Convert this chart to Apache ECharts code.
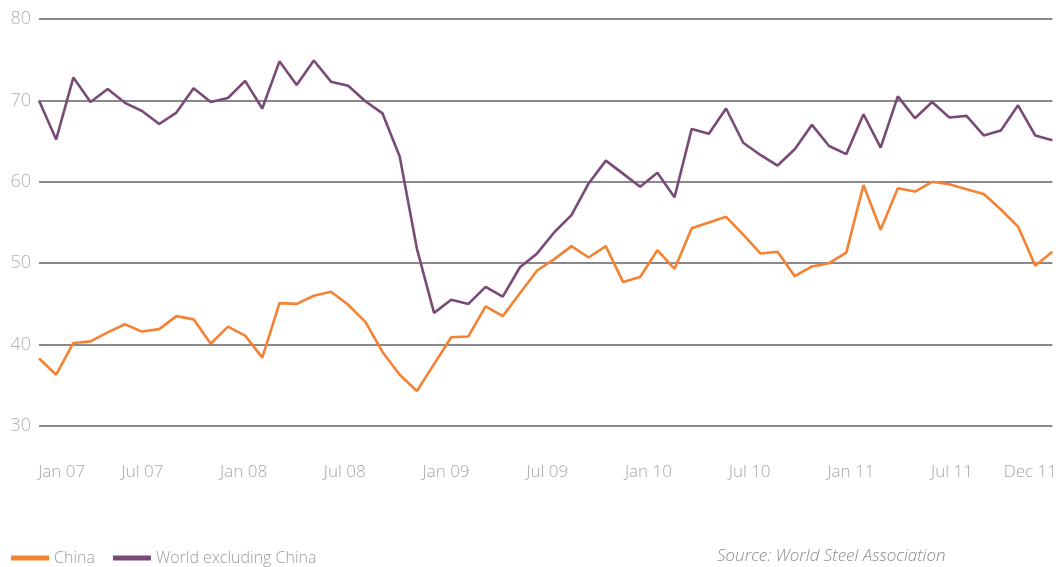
<!DOCTYPE html>
<html>
<head>
<meta charset="utf-8">
<script src="https://cdn.jsdelivr.net/npm/echarts@6/dist/echarts.min.js"></script>
<style>
  html, body { margin: 0; padding: 0; background: #fff; }
  #chart { width: 1060px; height: 567px; }
</style>
</head>
<body>
<div id="chart"></div>
<script>
// monthly, Jan 07 .. Dec 11
var months = [];
var years = ['07', '08', '09', '10', '11'];
var monthNames = ['Jan', 'Feb', 'Mar', 'Apr', 'May', 'Jun', 'Jul', 'Aug', 'Sep', 'Oct', 'Nov', 'Dec'];
years.forEach(function(y){
  monthNames.forEach(function(m){ months.push(m + ' ' + y); });
});

var china = [
  38.3, 36.3, 40.2, 40.4, 41.5, 42.5, 41.6, 41.9, 43.5, 43.1, 40.1, 42.2,
  41.1, 38.4, 45.1, 45.0, 46.0, 46.5, 44.9, 42.8, 39.1, 36.3, 34.3, 37.6,
  40.9, 41.0, 44.7, 43.5, 46.3, 49.1, 50.5, 52.1, 50.7, 52.1, 47.7, 48.3,
  51.6, 49.3, 54.3, 55.0, 55.7, 53.5, 51.2, 51.4, 48.4, 49.6, 50.0, 51.3,
  59.6, 54.1, 59.2, 58.8, 60.0, 59.7, 59.1, 58.5, 56.6, 54.5, 49.7, 51.4
];
var worldExChina = [
  70.0, 65.2, 72.8, 69.8, 71.4, 69.7, 68.7, 67.1, 68.5, 71.5, 69.8, 70.3,
  72.4, 69.0, 74.8, 71.9, 74.9, 72.3, 71.8, 69.9, 68.4, 63.1, 51.8, 43.9,
  45.5, 45.0, 47.1, 45.9, 49.5, 51.2, 53.8, 55.9, 59.8, 62.6, 61.0, 59.4,
  61.1, 58.1, 66.5, 65.9, 69.0, 64.8, 63.3, 62.0, 64.0, 67.0, 64.4, 63.4,
  68.3, 64.2, 70.5, 67.8, 69.8, 67.9, 68.1, 65.7, 66.3, 69.4, 65.7, 65.1
];

var tickIndex = [0, 6, 12, 18, 24, 30, 36, 42, 48, 54, 59];
var tickLabels = ['Jan 07', 'Jul 07', 'Jan 08', 'Jul 08', 'Jan 09', 'Jul 09',
  'Jan 10', 'Jul 10', 'Jan 11', 'Jul 11', 'Dec 11'];
var yTicks = [30, 40, 50, 60, 70, 80];

var ORANGE = '#f58232';
var PURPLE = '#7a4a77';
var FONT = '"Open Sans", "DejaVu Sans", sans-serif';

var chart = echarts.init(document.getElementById('chart'));

var option = {
  animation: false,
  grid: {
    left: 39,
    right: 3,
    top: 19,
    bottom: 141
  },
  legend: {
    left: 6,
    top: 545,
    itemWidth: 38,
    itemHeight: 5,
    itemGap: 18,
    icon: 'rect',
    textStyle: {
      color: '#9d9a9d',
      fontFamily: FONT,
      fontSize: 16,
      fontWeight: 300
    },
    data: ['China', 'World excluding China']
  },
  graphic: [{
    type: 'text',
    left: 717,
    top: 548,
    style: {
      text: 'Source: World Steel Association',
      fill: '#8e8b8e',
      font: 'italic 300 17px ' + FONT
    }
  }],
  xAxis: [
    {
      type: 'category',
      boundaryGap: false,
      data: months,
      axisLine: {show: false},
      axisTick: {show: false},
      axisLabel: {show: false},
      splitLine: {show: false}
    },
    {
      type: 'value',
      position: 'bottom',
      min: -0.13,
      max: 59.95,
      axisLine: {show: false},
      axisTick: {show: false},
      splitLine: {show: false},
      axisLabel: {
        customValues: tickIndex,
        margin: 38,
        color: '#a8a5a8',
        fontFamily: FONT,
        fontSize: 17,
        fontWeight: 300,
        formatter: function(v){
          var k = tickIndex.indexOf(Math.round(v));
          if (k < 0) return '';
          if (k === 0) return '{l|' + tickLabels[k] + '}';
          if (k === tickLabels.length - 1) return '{r|' + tickLabels[k] + '}';
          return tickLabels[k];
        },
        rich: {
          l: {padding: [0, 0, 0, 41], color: '#a8a5a8', fontFamily: FONT, fontSize: 17, fontWeight: 300},
          r: {padding: [0, 12, 0, 0], color: '#a8a5a8', fontFamily: FONT, fontSize: 17, fontWeight: 300}
        }
      }
    }
  ],
  yAxis: {
    type: 'value',
    min: 30,
    max: 80,
    interval: 10,
    axisLine: {show: false},
    axisTick: {show: false},
    axisLabel: {
      margin: 8,
      color: '#b3b0b3',
      fontFamily: FONT,
      fontSize: 18,
      fontWeight: 300,
      formatter: function(v){ return yTicks.indexOf(v) >= 0 ? String(v) : ''; }
    },
    splitLine: {
      lineStyle: {color: '#8b888b', width: 2}
    }
  },
  series: [
    {
      name: 'China',
      type: 'line',
      xAxisIndex: 0,
      data: china,
      symbol: 'none',
      itemStyle: {color: ORANGE},
      lineStyle: {color: ORANGE, width: 2.6}
    },
    {
      name: 'World excluding China',
      type: 'line',
      xAxisIndex: 0,
      data: worldExChina,
      symbol: 'none',
      itemStyle: {color: PURPLE},
      lineStyle: {color: PURPLE, width: 2.6}
    }
  ]
};

chart.setOption(option);
</script>
</body>
</html>
